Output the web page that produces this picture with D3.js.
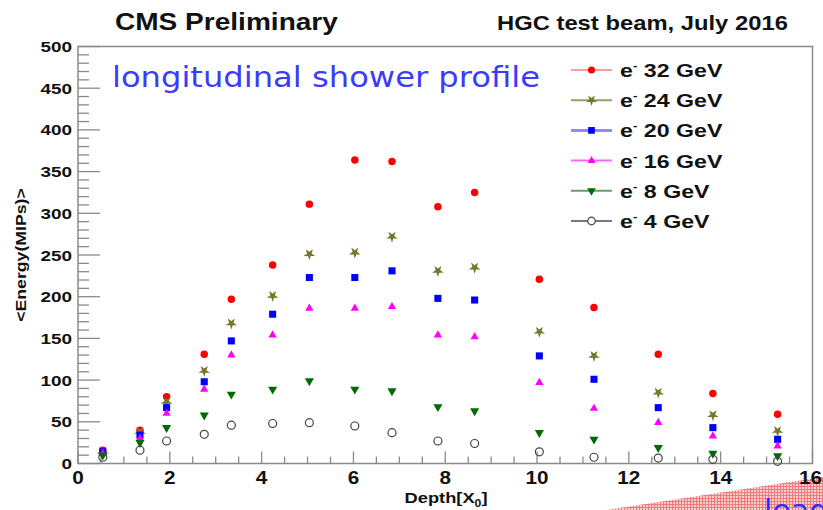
<!DOCTYPE html>
<html><head><meta charset="utf-8">
<script src="https://cdn.jsdelivr.net/npm/d3@7"></script>
<style>
html,body{margin:0;padding:0;background:#fff;}
svg{display:block;font-family:"Liberation Sans",Arial,sans-serif;}
</style></head>
<body>
<svg id="c" width="823" height="510"></svg>
<script>
// ---- data ----
const depth = [0.54, 1.35, 1.93, 2.75, 3.34, 4.24, 5.04, 6.03, 6.84, 7.84, 8.64, 10.05, 11.24, 12.64, 13.83, 15.24];
const e32 = [16, 40, 80, 131, 197, 238, 311, 364, 362, 308, 325, 221, 187, 131, 84, 59];
const e24 = [14, 38, 74, 111, 168, 201, 251, 253, 272, 231, 235, 158, 129, 85, 58, 39];
const e20 = [14, 34, 67, 98, 147, 179, 223, 223, 231, 198, 196, 129, 101, 67, 43, 29];
const e16 = [12, 30, 60, 89, 130, 154, 186, 186, 188, 154, 152, 97, 66, 49, 33, 21];
const e8  = [10, 25, 43, 58, 83, 89, 99, 89, 87, 68, 63, 37, 29, 19, 12, 9];
const e4  = [7.5, 16, 27, 35, 46, 48, 49, 45, 37, 27, 24, 14, 7.5, 6.5, 5, 2.6];
const seriesNames = ["32 GeV", "24 GeV", "20 GeV", "16 GeV", "8 GeV", "4 GeV"];
const seriesValues = [e32, e24, e20, e16, e8, e4];
const xTickLabels = [0, 2, 4, 6, 8, 10, 12, 14, 16];
const yTickLabels = [0, 50, 100, 150, 200, 250, 300, 350, 400, 450, 500];

// styles
const styles = [
  {type: d3.symbolCircle, size: 44, fill: "#ff0000", stroke: "none", line: "#ff9c9c", rot: 0},
  {type: d3.symbolStar, size: 42, fill: "#77772a", stroke: "none", line: "#9c9c66", rot: 180},
  {type: d3.symbolSquare, size: 50, fill: "#0000ff", stroke: "none", line: "#8c8cff", rot: 0},
  {type: d3.symbolTriangle, size: 30, fill: "#ff00ff", stroke: "none", line: "#ff66ff", rot: 0},
  {type: d3.symbolTriangle, size: 36, fill: "#006b00", stroke: "none", line: "#66a066", rot: 180},
  {type: d3.symbolCircle, size: 50, fill: "none", stroke: "#444", line: "#777", rot: 0}
];

const SX = 1.22; // horizontal stretch of the reference's text
function stext(g, px, py, anchor, size, rot, sx) {
  return g.append("text")
    .attr("transform", `translate(${px},${py})` + (rot ? ` rotate(${rot})` : "") + ` scale(${sx || SX},1)`)
    .attr("text-anchor", anchor).attr("font-weight", "bold").attr("font-size", size).attr("fill", "#111");
}

const svg = d3.select("#c");
const L = 78, R = 812.5, T = 46.5, B = 463.5;
const x = d3.scaleLinear().domain([0, 16]).range([L, R]);
const y = d3.scaleLinear().domain([0, 500]).range([B, T]);

// decorative red hatched shape bottom-right
const defs = svg.append("defs");
const pat = defs.append("pattern").attr("id", "hatch").attr("patternUnits", "userSpaceOnUse")
  .attr("width", 3).attr("height", 3);
pat.append("rect").attr("width", 3).attr("height", 3).attr("fill", "#f9d0d0");
pat.append("path").attr("d", "M0,0.5H3M0.5,0V3").attr("stroke", "#f07a7a").attr("stroke-width", 1);
svg.append("polygon").attr("points", "606,510 823,477 823,510").attr("fill", "url(#hatch)");
svg.append("text").attr("x", 764).attr("y", 521).attr("font-family", "'DejaVu Sans', sans-serif")
  .attr("font-size", 30).attr("fill", "#2b2bff").text("lead");

// frame
svg.append("rect").attr("x", L).attr("y", T).attr("width", R - L).attr("height", B - T)
  .attr("fill", "none").attr("stroke", "#8a8a8a").attr("stroke-width", 1.5);

// ticks
const tickCol = "#8a8a8a";
const xMinor = d3.range(0, 16.01, 0.5);
svg.append("g").selectAll("line").data(xMinor).join("line")
  .attr("x1", d => x(d)).attr("x2", d => x(d))
  .attr("y1", B).attr("y2", d => B - (Math.abs(d % 2) < 1e-9 ? 12 : 7))
  .attr("stroke", tickCol).attr("stroke-width", 1.3);
const yMinor = d3.range(0, 500.1, 10);
svg.append("g").selectAll("line").data(yMinor).join("line")
  .attr("x1", L).attr("x2", d => L + (d % 50 === 0 ? 22 : 11))
  .attr("y1", d => y(d)).attr("y2", d => y(d))
  .attr("stroke", tickCol).attr("stroke-width", 1.3);

// tick labels
const gx = svg.append("g");
xTickLabels.forEach((d, i) => {
  const last = i === xTickLabels.length - 1;
  stext(gx, last ? 822 : x(d), 484, last ? "end" : "middle", 18, 0, 1.15).text(d);
});
const gy = svg.append("g");
yTickLabels.forEach(d => stext(gy, 72, y(d) + 5.5, "end", 15.5, 0).text(d));

// axis titles
const xt = stext(svg, 446, 503, "middle", 15, 0);
xt.append("tspan").text("Depth[X");
xt.append("tspan").attr("font-size", 10).attr("dy", 4).text("0");
xt.append("tspan").attr("dy", -4).text("]");
stext(svg, 26, 255, "middle", 14.5, -90).text("<Energy(MIPs)>");

// titles
stext(svg, 115, 30, "start", 23, 0).text("CMS Preliminary");
stext(svg, 497, 30, "start", 19.5, 0).text("HGC test beam, July 2016");

// overlay text
svg.append("text").attr("x", 112).attr("y", 87).attr("font-family", "'DejaVu Sans', sans-serif")
  .attr("font-size", 28).attr("fill", "#3b3bff").attr("textLength", 428).attr("lengthAdjust", "spacingAndGlyphs")
  .text("longitudinal shower profile");

// data points
seriesValues.forEach((vals, i) => {
  const st = styles[i];
  svg.append("g").selectAll("path").data(vals).join("path")
    .attr("transform", (d, j) => `translate(${x(depth[j])},${y(d)}) rotate(${st.rot})`)
    .attr("d", d3.symbol().type(st.type).size(st.size)())
    .attr("fill", st.fill).attr("stroke", st.stroke).attr("stroke-width", 1.2);
});

// legend
const lg = svg.append("g");
seriesNames.forEach((name, i) => {
  const st = styles[i];
  const yy = 70 + i * 30.2;
  lg.append("line").attr("x1", 571).attr("x2", 612).attr("y1", yy).attr("y2", yy)
    .attr("stroke", st.line).attr("stroke-width", i === 2 ? 3 : 2);
  lg.append("path").attr("transform", `translate(591.5,${yy}) rotate(${st.rot})`)
    .attr("d", d3.symbol().type(st.type).size(st.size * 0.9)())
    .attr("fill", st.fill === "none" ? "#fff" : st.fill).attr("stroke", st.stroke).attr("stroke-width", 1.2);
  const t = stext(lg, 620, yy + 7, "start", 19, 0);
  t.append("tspan").text("e");
  t.append("tspan").attr("font-size", 11).attr("dy", -8).text("-");
  t.append("tspan").attr("dy", 8).text(" " + name);
});
</script>
</body></html>
